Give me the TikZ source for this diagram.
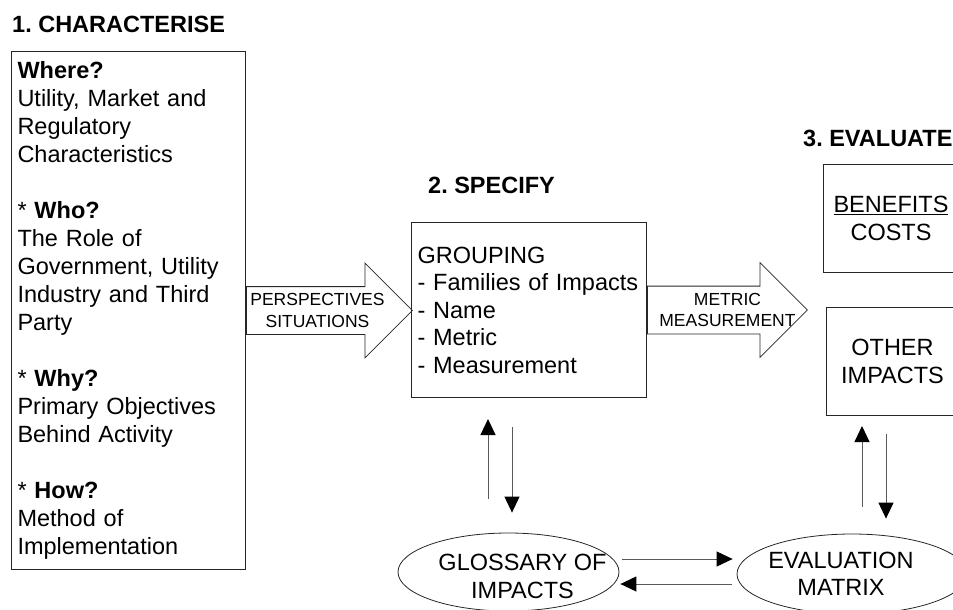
\documentclass[tikz,border=0pt]{standalone}
\usepackage{fontspec}
\setmainfont{Liberation Sans}
\usetikzlibrary{shapes.geometric,shapes.arrows,positioning,arrows.meta}

\begin{document}
\frenchspacing
\begin{tikzpicture}[x=1pt,y=-1pt,
  box/.style={draw=black!85,line width=1pt,rectangle,inner xsep=6pt,inner ysep=0pt,font=\fontsize{23.5}{27.5}\selectfont},
  title/.style={font=\fontsize{23.5}{27}\selectfont\bfseries,inner sep=0pt,anchor=west},
  blockarrow/.style={draw=black!85,line width=0.8pt,single arrow,single arrow head extend=23.5pt,single arrow tip angle=90,minimum width=94pt,inner xsep=0pt,inner ysep=23.5pt},
  arrowtext/.style={font=\fontsize{17.5}{21.5}\selectfont,align=center},
  oval/.style={draw=black!85,line width=0.8pt,ellipse,inner sep=0pt},
  ovaltext/.style={font=\fontsize{23.5}{27.5}\selectfont,align=center},
  flow/.style={draw=black!65,line width=1pt,-{Triangle[width=15pt,length=16pt,color=black]}}]
  \useasboundingbox (0,0) rectangle (953,610);
  \clip (0,0) rectangle (953,610);

  % stage titles
  \node[title] (charact) at (12,24) {1. CHARACTERISE};
  \node[title] (specify) at (428,185) {2. SPECIFY};
  \node[title] (evaluate) at (803,138) {3. EVALUATE};

  % boxes
  \node[box,anchor=north west,text width=222pt,minimum height=518pt,align=left,font=\fontsize{23.5}{28}\selectfont] (charbox) at (11,51) {\textbf{Where?}\\Utility, Market and\\Regulatory\\Characteristics\\[28pt]* \textbf{Who?}\\The Role of\\Government, Utility\\Industry and Third\\Party\\[28pt]* \textbf{Why?}\\Primary Objectives\\Behind Activity\\[28pt]* \textbf{How?}\\Method of\\Implementation};
  \node[box,anchor=north west,text width=223pt,minimum height=175pt,align=left] (grouping) at (411,222) {GROUPING\\- Families of Impacts\\- Name\\- Metric\\- Measurement};
  \node[box,anchor=north west,minimum width=135pt,minimum height=108pt,align=center] (benefits) at (823,164) {\underline{BENEFITS}\\COSTS};
  \node[box,anchor=north west,minimum width=132pt,minimum height=108pt,align=center] (other) at (826,307) {OTHER\\IMPACTS};

  % block arrows
  \node[blockarrow,minimum height=166pt,right=0pt of charbox,label={[arrowtext]center:PERSPECTIVES\\SITUATIONS}] (persp) {};
  \node[blockarrow,minimum height=160pt,right=0pt of grouping,label={[arrowtext,xshift=12pt]center:METRIC\\MEASUREMENT}] (metric) {};

  % ellipses
  \node[oval,minimum width=221pt,minimum height=78pt,label={[ovaltext,xshift=14pt,yshift=-4.5pt]center:GLOSSARY OF\\IMPACTS}] (gloss) at (508.5,572) {};
  \node[oval,minimum width=230pt,minimum height=80pt,label={[ovaltext,xshift=-11pt]center:EVALUATION\\MATRIX}] (evalm) at (852,574) {};

  % exchanges
  \draw[flow,shorten <=34pt,shorten >=21pt] (gloss.north -| 488,0) -- (grouping.south -| 488,0);
  \draw[flow,shorten <=29pt,shorten >=20pt] (grouping.south -| 512,0) -- (gloss.north -| 512,0);
  \draw[flow,shorten <=27pt,shorten >=10pt] (evalm.north -| 862,0) -- (other.south -| 862,0);
  \draw[flow,shorten <=18pt,shorten >=15pt] (other.south -| 886,0) -- (evalm.north -| 886,0);
  \draw[flow,shorten <=3pt,shorten >=4pt] (gloss.east |- 0,559) -- (evalm.west |- 0,559);
  \draw[flow,shorten <=5pt,shorten >=1pt] (evalm.west |- 0,584) -- (gloss.east |- 0,584);
\end{tikzpicture}
\end{document}
